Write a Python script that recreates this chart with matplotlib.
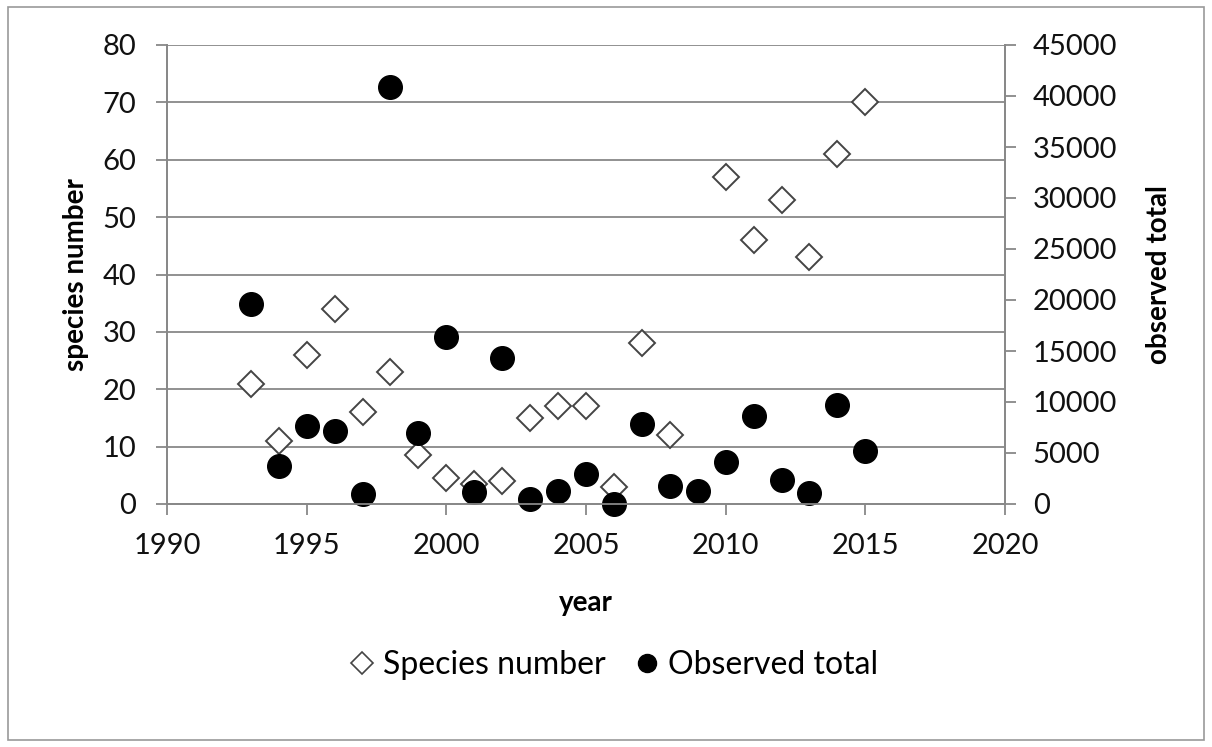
import matplotlib.pyplot as plt
from matplotlib.lines import Line2D
from matplotlib.patches import Rectangle

plt.rcParams['font.family'] = ['Lato', 'DejaVu Sans']

# species number per year (left axis)
sp_years = [1993, 1994, 1995, 1996, 1997, 1998, 1999, 2000, 2001, 2002, 2003,
            2004, 2005, 2006, 2007, 2008, 2010, 2011, 2012, 2013, 2014, 2015]
species = [21, 11, 26, 34, 16, 23, 8.5, 4.5, 3.5, 4, 15,
           17, 17, 3, 28, 12, 57, 46, 53, 43, 61, 70]

# observed total per year (right axis)
obs_years = [1993, 1994, 1995, 1996, 1997, 1998, 1999, 2000, 2001, 2002, 2003, 2004,
             2005, 2006, 2007, 2008, 2009, 2010, 2011, 2012, 2013, 2014, 2015]
observed = [19600, 3700, 7600, 7200, 1000, 40900, 7000, 16400, 1200, 14300, 500, 1300,
            2900, 0, 7800, 1800, 1300, 4100, 8600, 2400, 1100, 9700, 5200]

grey = '#888888'

fig = plt.figure(figsize=(12.12, 7.47), dpi=100)
fig.patches.append(Rectangle((0.007, 0.009), 0.986, 0.981, transform=fig.transFigure,
                             fill=False, edgecolor='#999999', linewidth=1.2))

ax = fig.add_axes([167 / 1212, 1 - 504 / 747, (1005 - 167) / 1212, (504 - 45) / 747])
ax2 = ax.twinx()

ax.set_xlim(1990, 2020)
ax.set_ylim(0, 80)
ax2.set_ylim(0, 45000)
ax.set_xticks(range(1990, 2021, 5))
ax.set_yticks(range(0, 81, 10))
ax2.set_yticks(range(0, 45001, 5000))

ax.grid(axis='y', color=grey, linewidth=1.3)
ax.set_axisbelow(True)

for a in (ax, ax2):
    for s in a.spines.values():
        s.set_color(grey)
        s.set_linewidth(1.3)
    a.spines['top'].set_visible(False)
    a.tick_params(colors=grey, length=8, width=1.3, labelcolor='#111111', labelsize=21)
ax.tick_params(axis='y', pad=14)
ax.tick_params(axis='x', pad=13)
ax2.tick_params(axis='y', pad=12)

ax.plot(sp_years, species, linestyle='none', marker='D', markersize=13,
        markerfacecolor='white', markeredgecolor='#444444', markeredgewidth=1.4)
ax2.plot(obs_years, observed, linestyle='none', marker='o', markersize=17,
         markerfacecolor='black', markeredgecolor='black', clip_on=False)

ax.set_xlabel('year', fontsize=20, fontweight='bold', labelpad=22)
ax.set_ylabel('species number', fontsize=20, fontweight='bold', labelpad=10)
ax2.set_ylabel('observed total', fontsize=20, fontweight='bold', labelpad=21)

handles = [Line2D([], [], linestyle='none', marker='D', markersize=11,
                  markerfacecolor='white', markeredgecolor='#444444', markeredgewidth=1.2),
           Line2D([], [], linestyle='none', marker='o', markersize=13,
                  markerfacecolor='black', markeredgecolor='black')]
fig.legend(handles, ['Species number', 'Observed total'], loc='center',
           bbox_to_anchor=(0.505, 1 - 665 / 747), ncol=2, frameon=False,
           fontsize=23, handletextpad=0.15, columnspacing=0.8, handlelength=1.0)

fig.savefig('out.png', dpi=100)
